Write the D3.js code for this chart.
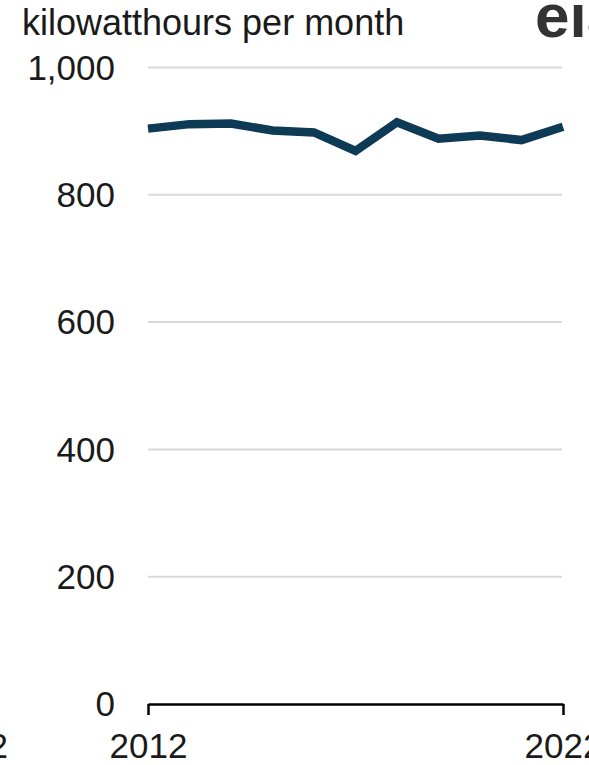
<!DOCTYPE html>
<html>
<head>
<meta charset="utf-8">
<script src="https://cdn.jsdelivr.net/npm/d3@7"></script>
<style>
  html, body { margin: 0; padding: 0; background: #ffffff; }
  svg { display: block; }
  text { font-family: "Liberation Sans", Arial, sans-serif; fill: #1a1a1a; }
</style>
</head>
<body>
<svg id="chart" width="589" height="765"></svg>
<script>
const years = [2012, 2013, 2014, 2015, 2016, 2017, 2018, 2019, 2020, 2021, 2022];
const consumption = [904, 911, 912, 901, 898, 869, 914, 888, 893, 886, 907];
const yTicks = [0, 200, 400, 600, 800, 1000];
const xTicks = [2012, 2022];
const unitLabel = "kilowatthours per month";
const logoText = "eia";
const prevPanelLabel = "2022";

const svg = d3.select("#chart");
const x = d3.scaleLinear().domain([2012, 2022]).range([148, 563]);
const y = d3.scaleLinear().domain([0, 1000]).range([704, 67.5]);

// gridlines
svg.append("g")
  .selectAll("line")
  .data(yTicks.filter(d => d > 0))
  .join("line")
  .attr("x1", 148).attr("x2", 562)
  .attr("y1", d => y(d)).attr("y2", d => y(d))
  .attr("stroke", "#d9d9d9").attr("stroke-width", 2);

// y tick labels
svg.append("g")
  .selectAll("text")
  .data(yTicks)
  .join("text")
  .attr("x", 115)
  .attr("y", d => y(d))
  .attr("dy", "0.35em")
  .attr("text-anchor", "end")
  .attr("font-size", 35)
  .text(d => d3.format(",")(d));

// x axis
const xAxis = d3.axisBottom(x)
  .tickValues(xTicks)
  .tickFormat(d3.format("d"))
  .tickSize(11)
  .tickSizeOuter(0)
  .tickPadding(18);
const gx = svg.append("g").attr("transform", `translate(0,${y(0)})`).call(xAxis);
gx.select(".domain").attr("stroke", "#000").attr("stroke-width", 2.5);
gx.selectAll(".tick line").attr("stroke", "#000").attr("stroke-width", 2.5);
gx.selectAll(".tick text")
  .attr("font-size", 35)
  .attr("font-family", "'Liberation Sans', Arial, sans-serif")
  .attr("fill", "#1a1a1a");

// partial label from neighbouring panel
svg.append("text")
  .attr("x", -31).attr("y", 758)
  .attr("text-anchor", "middle")
  .attr("font-size", 35)
  .text(prevPanelLabel);

// line
const line = d3.line()
  .x((d, i) => x(years[i]))
  .y(d => y(d));
svg.append("path")
  .datum(consumption)
  .attr("d", line)
  .attr("fill", "none")
  .attr("stroke", "#0d3a55")
  .attr("stroke-width", 8.5)
  .attr("stroke-linejoin", "miter");

// unit label
svg.append("text")
  .attr("x", 22).attr("y", 35)
  .attr("font-size", 36)
  .text(unitLabel);

// logo
svg.append("text")
  .attr("x", 535).attr("y", 37)
  .attr("font-size", 62)
  .attr("font-weight", "bold")
  .style("fill", "#333333")
  .text(logoText);
</script>
</body>
</html>
